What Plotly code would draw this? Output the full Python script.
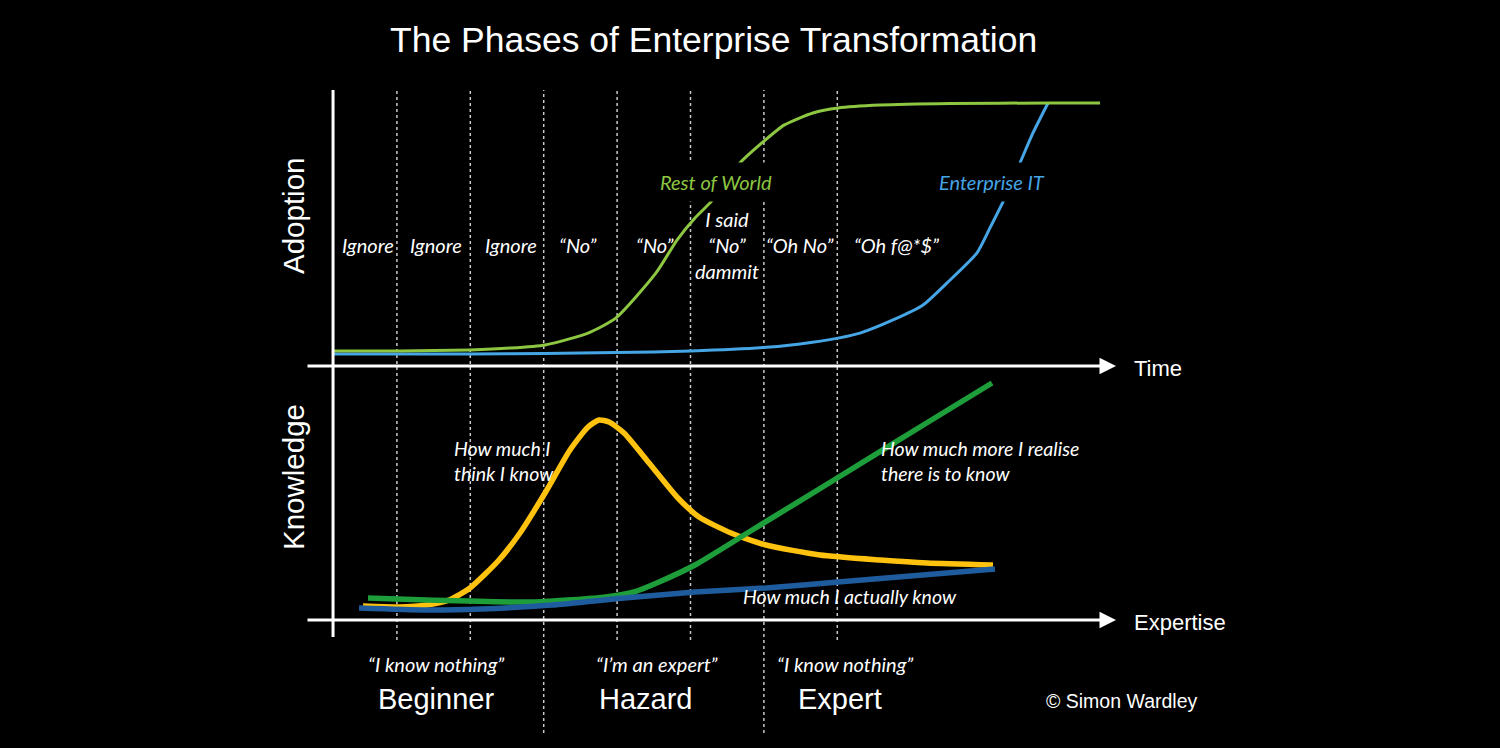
import plotly.graph_objects as go

# ---------------- data ----------------
# x is measured in "phase" units: the dotted phase boundaries sit at 1..7
phase_bounds = [1, 2, 3, 4, 5, 6, 7]
long_bounds = [3, 6]          # boundaries that run down between the stage names
axis_origin = 0.13            # where the vertical axis sits

# Top chart: adoption over time (0 = none, 1 = full)
world_x = [0.143, 1.042, 1.996, 2.541, 3.018, 3.604, 3.985, 4.530, 4.816, 5.061,
           5.279, 5.470, 5.674, 5.988, 6.274, 6.669, 7.010, 7.582, 8.535, 9.898, 10.579]
world_y = [0.057, 0.057, 0.061, 0.068, 0.080, 0.125, 0.183, 0.354, 0.479, 0.563,
           0.624, 0.696, 0.772, 0.852, 0.916, 0.962, 0.981, 0.992, 0.998, 1.0, 1.0]

entit_x = [0.129, 1.996, 3.018, 3.985, 5.007, 5.988, 6.492, 7.010, 7.309, 7.759,
           8.168, 8.495, 8.903, 9.080, 9.257, 9.489, 9.666, 9.871]
entit_y = [0.046, 0.046, 0.048, 0.051, 0.057, 0.070, 0.084, 0.106, 0.125, 0.175,
           0.232, 0.316, 0.430, 0.525, 0.624, 0.772, 0.886, 1.0]

# Bottom chart: knowledge versus expertise (0..100)
think_x = [0.538, 1.029, 1.410, 1.710, 1.996, 2.391, 2.677, 3.018, 3.358, 3.604, 3.754,
           3.890, 4.094, 4.435, 4.816, 5.116, 5.552, 6.029, 6.764, 7.582, 8.222, 9.121]
think_y = [5.6, 5.2, 6.0, 8.0, 12.8, 24.0, 34.8, 50.8, 68.0, 77.2, 80.0,
           79.2, 74.8, 62.8, 49.2, 41.2, 34.8, 30.0, 26.0, 24.0, 22.8, 22.0]

realise_x = [0.606, 1.410, 2.868, 3.849, 4.230, 4.571, 5.061, 5.797, 7.010, 8.222, 9.108]
realise_y = [8.8, 8.0, 7.2, 9.2, 11.2, 15.2, 22.0, 35.2, 57.0, 78.9, 94.8]

actual_x = [0.484, 1.410, 2.146, 3.113, 4.094, 5.061, 6.029, 7.010, 9.148]
actual_y = [4.8, 4.0, 4.4, 6.0, 8.8, 11.2, 12.8, 15.2, 20.4]

# Labels
phase_labels = ["Ignore", "Ignore", "Ignore", "\u201cNo\u201d", "\u201cNo\u201d",
                "I said<br>\u201cNo\u201d<br>dammit", "\u201cOh No\u201d", "\u201cOh f@*$\u201d"]
phase_label_x = [0.60, 1.53, 2.55, 3.47, 4.52, 5.50, 6.49, 7.81]

stage_names = ["Beginner", "Hazard", "Expert"]
stage_x = [1.53, 4.40, 7.03]
stage_quotes = ["\u201cI know nothing\u201d", "\u201cI\u2019m an expert\u201d", "\u201cI know nothing\u201d"]
quote_x = [1.53, 4.54, 7.10]

# ---------------- layout geometry ----------------
W, H = 1500, 748
X0_PX, PX_PER_UNIT = 323.5, 73.4
TOP_BASE_PX, TOP_PX_PER = 366.0, 263.0
BOT_BASE_PX, BOT_PX_PER = 620.0, 2.5


def ux(px):
    return (px - X0_PX) / PX_PER_UNIT


def py(pix):
    return 1 - pix / H


top_range = [-0.06, 1.08]
bot_range = [-6, 104]
top_domain = [py(TOP_BASE_PX - TOP_PX_PER * top_range[0]), py(TOP_BASE_PX - TOP_PX_PER * top_range[1])]
bot_domain = [py(BOT_BASE_PX - BOT_PX_PER * bot_range[0]), py(BOT_BASE_PX - BOT_PX_PER * bot_range[1])]
x_range = [ux(0), ux(W)]

WHITE = "#ffffff"
SANS = "Liberation Sans, Arial, sans-serif"
ITAL = "Lato, Open Sans, sans-serif"
IT_SIZE = 20

fig = go.Figure()

# top curves
fig.add_trace(go.Scatter(x=entit_x, y=entit_y, mode="lines", xaxis="x", yaxis="y",
                         line=dict(color="#45A5E5", width=3, shape="spline", smoothing=0.6),
                         hoverinfo="skip"))
fig.add_trace(go.Scatter(x=world_x, y=world_y, mode="lines", xaxis="x", yaxis="y",
                         line=dict(color="#8DC641", width=3, shape="spline", smoothing=0.6),
                         hoverinfo="skip"))
# bottom curves
fig.add_trace(go.Scatter(x=think_x, y=think_y, mode="lines", xaxis="x2", yaxis="y2",
                         line=dict(color="#FFC20E", width=5.5, shape="spline", smoothing=0.6),
                         hoverinfo="skip"))
fig.add_trace(go.Scatter(x=realise_x, y=realise_y, mode="lines", xaxis="x2", yaxis="y2",
                         line=dict(color="#1E9E3A", width=5.5, shape="spline", smoothing=0.6),
                         hoverinfo="skip"))
fig.add_trace(go.Scatter(x=actual_x, y=actual_y, mode="lines", xaxis="x2", yaxis="y2",
                         line=dict(color="#1F5C9E", width=5.5, shape="spline", smoothing=0.6),
                         hoverinfo="skip"))

shapes = []
# dotted phase boundaries
for b in phase_bounds:
    bottom = 733 if b in long_bounds else 640
    shapes.append(dict(type="line", xref="x", yref="paper", x0=b, x1=b,
                       y0=py(bottom), y1=py(90),
                       line=dict(color="#c8c8c8", width=1.5, dash="dot"), layer="below"))
# vertical axis
shapes.append(dict(type="line", xref="x", yref="paper", x0=axis_origin, x1=axis_origin,
                   y0=py(637), y1=py(90), line=dict(color=WHITE, width=3)))

ann = []
# axis arrows
ann.append(dict(x=ux(1116), y=0, xref="x", yref="y", ax=ux(306), ay=0, axref="x", ayref="y",
                text="", showarrow=True, arrowhead=2, arrowsize=1.1, arrowwidth=3,
                arrowcolor=WHITE, standoff=0))
ann.append(dict(x=ux(1116), y=0, xref="x2", yref="y2", ax=ux(306), ay=0, axref="x2", ayref="y2",
                text="", showarrow=True, arrowhead=2, arrowsize=1.1, arrowwidth=3,
                arrowcolor=WHITE, standoff=0))

def txt(text, x, y, size, family=SANS, color=WHITE, xref="paper", xanchor="center",
        italic=False, **kw):
    d = dict(text=text, x=x, y=y, xref=xref, yref="paper", xanchor=xanchor, yanchor="middle",
             showarrow=False, font=dict(family=family, size=size, color=color,
                                        style="italic" if italic else "normal"))
    d.update(kw)
    ann.append(d)

txt("The Phases of Enterprise Transformation", 713 / W, py(40), 35.5)
txt("Adoption", 293 / W, py(216), 29.5, textangle=-90)
txt("Knowledge", 293 / W, py(477), 29.5, textangle=-90)
txt("Time", 1132 / W, py(368), 22, xanchor="left")
txt("Expertise", 1132 / W, py(622), 22, xanchor="left")
txt("\u00a9 Simon Wardley", 1122 / W, py(701), 19.5)

for lab, x in zip(phase_labels, phase_label_x):
    txt(lab, x, py(245), IT_SIZE, family=ITAL, xref="x", italic=True)

txt("Rest of World", ux(716), py(182), IT_SIZE, family=ITAL, color="#8DC641", xref="x",
    italic=True, bgcolor="#000000", borderpad=7)
txt("Enterprise IT", ux(992), py(182), IT_SIZE, family=ITAL, color="#45A5E5", xref="x",
    italic=True, bgcolor="#000000", borderpad=7)

txt("How much I<br>think I know", ux(452), py(461), 19.5, family=ITAL, xref="x",
    xanchor="left", align="left", italic=True)
txt("How much more I realise<br>there is to know", ux(879), py(461), 19.5, family=ITAL,
    xref="x", xanchor="left", align="left", italic=True)
txt("How much I actually know", ux(850), py(596), 19.5, family=ITAL, xref="x", italic=True)

for q, x in zip(stage_quotes, quote_x):
    txt(q, x, py(664), IT_SIZE, family=ITAL, xref="x", italic=True)
for s, x in zip(stage_names, stage_x):
    txt(s, x, py(699), 29, xref="x")

axis_off = dict(visible=False, showgrid=False, zeroline=False, fixedrange=True)
fig.update_layout(
    width=W, height=H,
    margin=dict(l=0, r=0, t=0, b=0),
    paper_bgcolor="#000000", plot_bgcolor="rgba(0,0,0,0)",
    showlegend=False,
    xaxis=dict(range=x_range, domain=[0, 1], anchor="y", **axis_off),
    yaxis=dict(range=top_range, domain=top_domain, anchor="x", **axis_off),
    xaxis2=dict(range=x_range, domain=[0, 1], anchor="y2", **axis_off),
    yaxis2=dict(range=bot_range, domain=bot_domain, anchor="x2", **axis_off),
    shapes=shapes,
    annotations=ann,
)

fig.write_html("out.html", config={"displayModeBar": False},
               post_script="document.body.style.margin='0';document.body.style.background='#000';")
